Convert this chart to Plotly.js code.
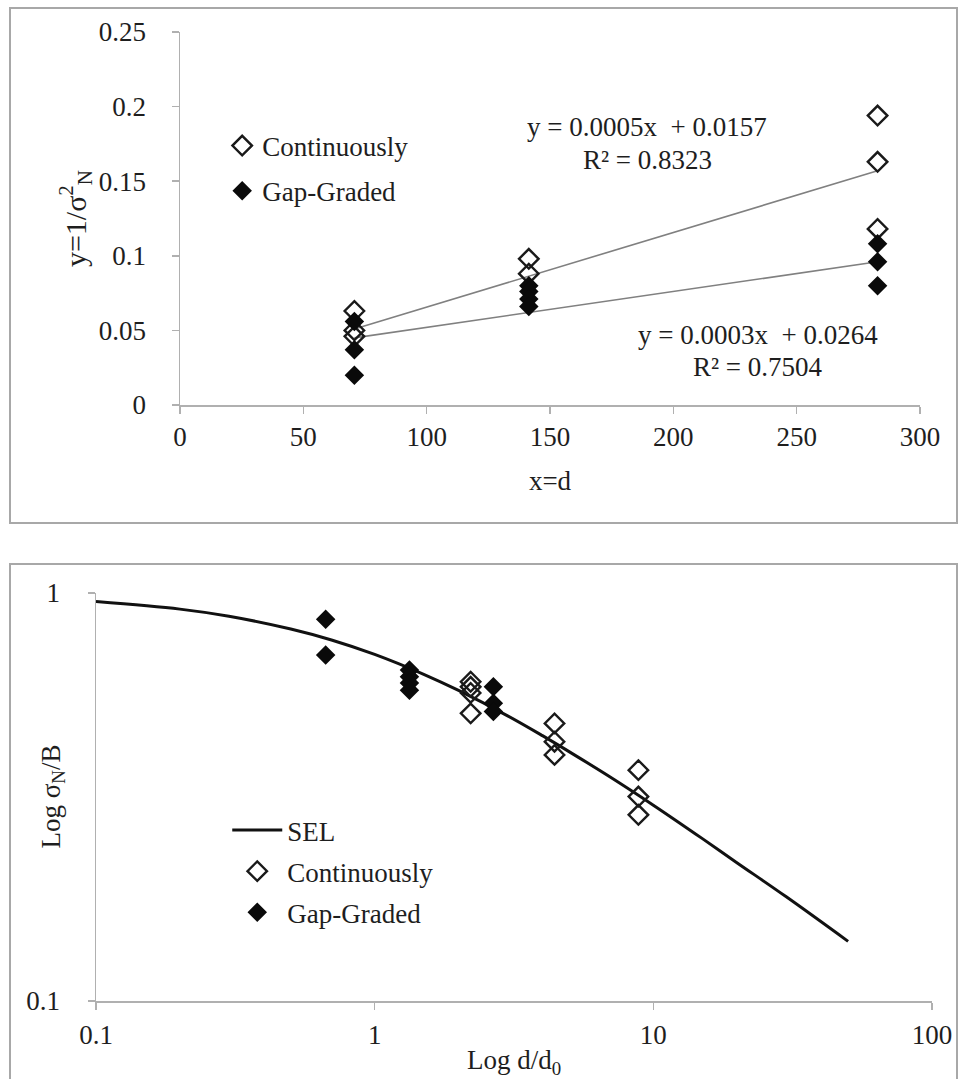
<!DOCTYPE html>
<html>
<head>
<meta charset="utf-8">
<script src="https://cdn.plot.ly/plotly-3.0.1.min.js"></script>
<style>
  html, body { margin: 0; padding: 0; background: #ffffff; width: 961px; height: 1079px; overflow: hidden; }
  .box { position: absolute; border: 2px solid #a8a8a8; background: #ffffff; box-sizing: content-box; }
  #top { left: 9px; top: 7px; width: 945px; height: 513px; }
  #bottom { left: 9px; top: 563px; width: 945px; height: 530px; }
</style>
</head>
<body>
<div id="top" class="box"></div>
<div id="bottom" class="box"></div>
<script>
// ---------- Top chart data: y = 1/sigma_N^2 vs x = d ----------
const contD = [70.7, 70.7, 70.7, 141.4, 141.4, 282.8, 282.8, 282.8];
const contInvSig2 = [0.063, 0.050, 0.046, 0.098, 0.088, 0.194, 0.163, 0.118];
const gapD = [70.7, 70.7, 70.7, 141.4, 141.4, 141.4, 141.4, 282.8, 282.8, 282.8];
const gapInvSig2 = [0.056, 0.037, 0.020, 0.080, 0.076, 0.071, 0.066, 0.108, 0.096, 0.080];
const trendD = [70.7, 282.8];
const contTrend = [0.051, 0.157];
const gapTrend = [0.045, 0.096];
const eqCont = ["y = 0.0005x  + 0.0157", "R² = 0.8323"];
const eqGap = ["y = 0.0003x  + 0.0264", "R² = 0.7504"];

// ---------- Bottom chart data: sigma_N/B vs d/d0 (log-log) ----------
const selBeta = [0.1, 0.2, 0.3, 0.5, 0.7, 1, 1.5, 2, 3, 4, 5, 7, 10, 15, 20, 30, 50];
const selSigma = [0.953, 0.913, 0.877, 0.816, 0.767, 0.707, 0.632, 0.577, 0.500, 0.447, 0.408, 0.354, 0.302, 0.250, 0.218, 0.180, 0.140];
const contBeta = [2.21, 2.21, 2.21, 2.21, 4.42, 4.42, 4.42, 8.84, 8.84, 8.84];
const contSigma = [0.606, 0.589, 0.569, 0.507, 0.479, 0.432, 0.401, 0.368, 0.317, 0.286];
const gapBeta = [0.667, 0.667, 1.333, 1.333, 1.333, 1.333, 2.667, 2.667, 2.667];
const gapSigma = [0.862, 0.705, 0.648, 0.623, 0.602, 0.578, 0.589, 0.537, 0.512];
const logTicks = [0.1, 1, 10, 100];
const logTickText = ["0.1", "1", "10", "100"];
const yLogTicks = [0.1, 1];
const yLogTickText = ["0.1", "1"];

const FONT = "Liberation Serif, Times New Roman, serif";
const TXT = "#1e1e1e";
const AX = "#b0b0b0";
const FS = 27;

const openMarker = { symbol: "diamond-open", size: 15, color: "#1a1a1a", line: { width: 2.4, color: "#1a1a1a" } };
const fillMarker = { symbol: "diamond", size: 15, color: "#0a0a0a", line: { width: 0 } };

// ---------- Top chart ----------
const topTraces = [
  { x: trendD, y: contTrend, mode: "lines", line: { color: "#808080", width: 1.6 }, showlegend: false, hoverinfo: "skip" },
  { x: trendD, y: gapTrend, mode: "lines", line: { color: "#808080", width: 1.6 }, showlegend: false, hoverinfo: "skip" },
  { x: contD, y: contInvSig2, mode: "markers", name: "Continuously", marker: openMarker, legendgroup: "a" },
  { x: gapD, y: gapInvSig2, mode: "markers", name: "Gap-Graded", marker: fillMarker, legendgroup: "b" }
];

const axBase = {
  showgrid: false, zeroline: false, showline: true, linecolor: AX, linewidth: 1.5,
  ticks: "outside", ticklen: 7, tickcolor: AX, tickwidth: 1.5,
  tickfont: { family: FONT, size: FS, color: TXT }, automargin: false
};

const topLayout = {
  width: 945, height: 513,
  margin: { l: 169, r: 36, t: 23, b: 117 },
  paper_bgcolor: "#ffffff", plot_bgcolor: "#ffffff",
  font: { family: FONT, size: FS, color: TXT },
  xaxis: Object.assign({}, axBase, {
    range: [0, 300], dtick: 50, tick0: 0, ticklabelstandoff: 0,
    title: { text: "x=d", font: { family: FONT, size: FS, color: TXT }, standoff: 20 }
  }),
  yaxis: Object.assign({}, axBase, {
    range: [0, 0.25], dtick: 0.05, tick0: 0, ticklabelstandoff: 20,
    title: { text: "y=1/σ<sup>2</sup><sub>N</sub>", font: { family: FONT, size: 30, color: TXT }, standoff: 3 }
  }),
  legend: {
    x: 0.057, y: 0.76, xanchor: "left", yanchor: "top",
    font: { family: FONT, size: FS, color: TXT },
    bgcolor: "rgba(0,0,0,0)", traceorder: "grouped", tracegroupgap: 7, itemwidth: 30
  },
  annotations: [
    { x: 189.5, y: 0.1863, xref: "x", yref: "y", text: eqCont[0], showarrow: false, xanchor: "center", yanchor: "middle", font: { family: FONT, size: FS, color: TXT } },
    { x: 189.5, y: 0.1642, xref: "x", yref: "y", text: eqCont[1], showarrow: false, xanchor: "center", yanchor: "middle", font: { family: FONT, size: FS, color: TXT } },
    { x: 234.5, y: 0.0469, xref: "x", yref: "y", text: eqGap[0], showarrow: false, xanchor: "center", yanchor: "middle", font: { family: FONT, size: FS, color: TXT } },
    { x: 234.5, y: 0.0255, xref: "x", yref: "y", text: eqGap[1], showarrow: false, xanchor: "center", yanchor: "middle", font: { family: FONT, size: FS, color: TXT } }
  ],
  showlegend: true
};

Plotly.newPlot("top", topTraces, topLayout, { staticPlot: true, displayModeBar: false });

// ---------- Bottom chart ----------
const botTraces = [
  { x: selBeta, y: selSigma, mode: "lines", name: "SEL", line: { color: "#111111", width: 3, shape: "spline" }, legendgroup: "a" },
  { x: contBeta, y: contSigma, mode: "markers", name: "Continuously", marker: openMarker, legendgroup: "b" },
  { x: gapBeta, y: gapSigma, mode: "markers", name: "Gap-Graded", marker: fillMarker, legendgroup: "c" }
];

const botLayout = {
  width: 945, height: 530,
  margin: { l: 85, r: 24, t: 28, b: 94 },
  paper_bgcolor: "#ffffff", plot_bgcolor: "#ffffff",
  font: { family: FONT, size: FS, color: TXT },
  xaxis: Object.assign({}, axBase, {
    type: "log", range: [-1, 2], tickvals: logTicks, ticktext: logTickText, ticklabelstandoff: 2,
    title: { text: "Log d/d<sub>0</sub>", font: { family: FONT, size: FS, color: TXT }, standoff: 1 }
  }),
  yaxis: Object.assign({}, axBase, {
    type: "log", range: [-1, 0], tickvals: yLogTicks, ticktext: yLogTickText, ticklabelstandoff: 22
  }),
  legend: {
    x: 0.157, y: 0.478, xanchor: "left", yanchor: "top",
    font: { family: FONT, size: FS, color: TXT },
    bgcolor: "rgba(0,0,0,0)", traceorder: "grouped", tracegroupgap: 3, itemwidth: 50
  },
  annotations: [
    { x: -0.052, y: 0.5, xref: "paper", yref: "paper", text: "Log σ<sub>N</sub>/B", textangle: -90, showarrow: false, xanchor: "center", yanchor: "middle", font: { family: FONT, size: FS, color: TXT } }
  ],
  showlegend: true
};

Plotly.newPlot("bottom", botTraces, botLayout, { staticPlot: true, displayModeBar: false });
</script>
</body>
</html>
